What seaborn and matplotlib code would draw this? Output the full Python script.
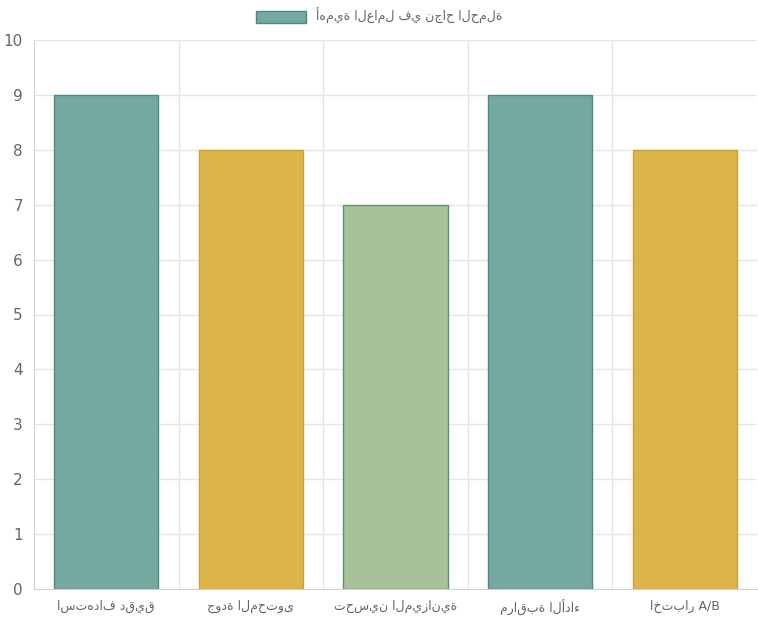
import matplotlib
matplotlib.use("Agg")
import matplotlib.pyplot as plt
import seaborn as sns
import pandas as pd
from matplotlib.patches import Patch

categories = ["استهداف دقيق", "جودة المحتوى", "تحسين الميزانية", "مراقبة الأداء", "اختبار A/B"]
values = [9, 8, 7, 9, 8]
fills = ["#73a9a0", "#dbb54a", "#a6c298", "#73a9a0", "#dbb54a"]
edges = ["#4d8a7e", "#c9a12e", "#5f8f6a", "#4d8a7e", "#c9a12e"]
legend_label = "أهمية العامل في نجاح الحملة"

sns.set_style("white")
plt.rcParams['font.family'] = ['DejaVu Sans']

fig = plt.figure(figsize=(7.58, 6.25), dpi=100)
ax = fig.add_axes([34/758, 1-589/625, (757-34)/758, (589-40)/625])
df = pd.DataFrame({"cat": categories, "val": values})
sns.barplot(data=df, x="cat", y="val", hue="cat", palette=fills, legend=False,
            width=0.72, ax=ax, saturation=1)
for p, e in zip(ax.patches, edges):
    p.set_edgecolor(e); p.set_linewidth(1)
ax.set_xlim(-0.5, 4.5)
ax.set_ylim(0, 10)
ax.set_yticks(range(11))
ax.set_xlabel(""); ax.set_ylabel("")
for x in [0.5, 1.5, 2.5, 3.5]:
    ax.axvline(x, color="#e5e5e5", lw=1, zorder=0)
for y in range(1, 11):
    ax.axhline(y, color="#e5e5e5", lw=1, zorder=0)
for s in ["top", "right"]:
    ax.spines[s].set_visible(False)
ax.spines["left"].set_color("#d0d0d0")
ax.spines["bottom"].set_color("#d0d0d0")
ax.tick_params(axis="y", colors="#666666", labelsize=11, length=0, pad=8)
ax.tick_params(axis="x", colors="#666666", labelsize=9, length=0, pad=8)
fig.legend(handles=[Patch(facecolor=fills[0], edgecolor=edges[0], label=legend_label)],
           loc="upper center", bbox_to_anchor=(0.5, 1.005), frameon=False,
           fontsize=9, labelcolor="#666666", handlelength=4, handleheight=1.1)
fig.savefig("out.png", dpi=100)
